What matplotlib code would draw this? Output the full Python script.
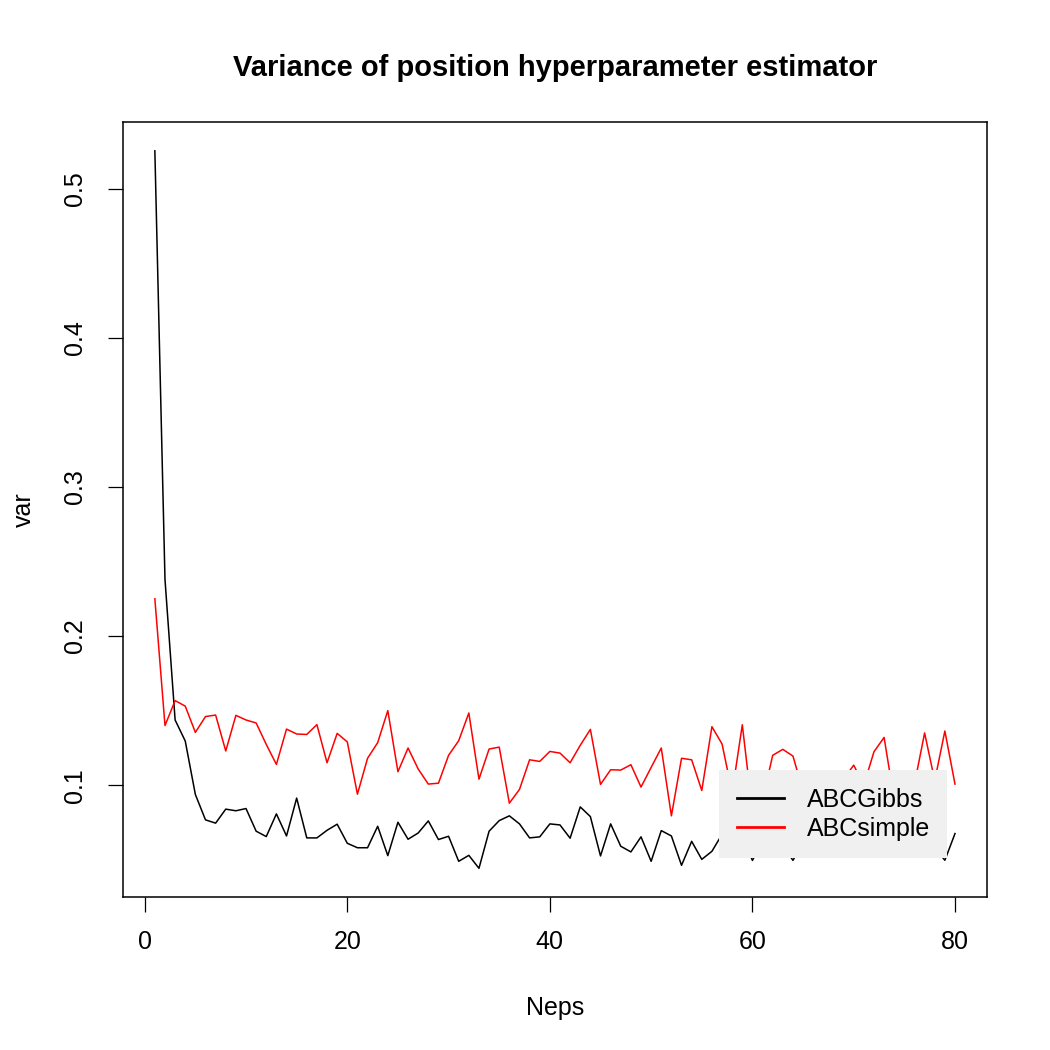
import matplotlib as ml
ml.use('Agg')
import numpy as np
import matplotlib.pyplot as plt
from matplotlib.lines import Line2D

plt.rcParams['font.family'] = ['Liberation Sans', 'DejaVu Sans']

# Neps = 1..80
neps = np.arange(1, 81)

# Variance of estimator, ABCGibbs (values under the legend are estimates)
abc_gibbs = [
    0.5255, 0.238, 0.1437, 0.1296, 0.0937, 0.0767, 0.0745, 0.0839, 0.0828, 0.0843,
    0.0691, 0.0655, 0.0807, 0.0659, 0.0913, 0.0646, 0.0646, 0.0697, 0.0738, 0.0610,
    0.0580, 0.0580, 0.0724, 0.0527, 0.0751, 0.0637, 0.0679, 0.0760, 0.0635, 0.0657,
    0.0489, 0.0529, 0.0442, 0.0691, 0.0762, 0.0794, 0.0740, 0.0646, 0.0653, 0.0740,
    0.0733, 0.0644, 0.0854, 0.0789, 0.0525, 0.0740, 0.0590, 0.0552, 0.0653, 0.0489,
    0.0695, 0.0659, 0.0462, 0.0623, 0.0502, 0.0556, 0.0670, 0.0600, 0.0650, 0.0495,
    0.0620, 0.0580, 0.0600, 0.0495, 0.0620, 0.0580, 0.0630, 0.0550, 0.0600, 0.0580,
    0.0630, 0.0550, 0.0600, 0.0570, 0.0620, 0.0560, 0.0600, 0.0580, 0.0496, 0.0675,
]

# Variance of estimator, ABCsimple
abc_simple = [
    0.2250, 0.1400, 0.1567, 0.1530, 0.1354, 0.1460, 0.1470, 0.1229, 0.1468, 0.1437,
    0.1417, 0.1273, 0.1139, 0.1376, 0.1343, 0.1340, 0.1406, 0.1150, 0.1347, 0.1290,
    0.0939, 0.1180, 0.1285, 0.1500, 0.1090, 0.1249, 0.1108, 0.1007, 0.1013, 0.1200,
    0.1298, 0.1484, 0.1040, 0.1242, 0.1255, 0.0879, 0.0971, 0.1170, 0.1159, 0.1226,
    0.1215, 0.1150, 0.1267, 0.1374, 0.1005, 0.1103, 0.1101, 0.1137, 0.0987, 0.1119,
    0.1249, 0.0794, 0.1180, 0.1170, 0.0964, 0.1392, 0.1276, 0.0950, 0.1405, 0.0820,
    0.0900, 0.1200, 0.1240, 0.1195, 0.0960, 0.1000, 0.1080, 0.0950, 0.1040, 0.1134,
    0.1000, 0.1224, 0.1320, 0.0900, 0.1000, 0.1007, 0.1350, 0.1030, 0.1363, 0.1007,
]

xticks = [0, 20, 40, 60, 80]
yticks = [0.1, 0.2, 0.3, 0.4, 0.5]

fig = plt.figure(figsize=(10.5, 10.5), dpi=100)
ax = fig.add_axes([0.117, 0.1457, 0.823, 0.738])

ax.plot(neps, abc_gibbs, color='black', lw=1.1)
ax.plot(neps, abc_simple, color='red', lw=1.1)

# R-style 4% padding
x0, x1 = min(neps), max(neps)
dx = (x1 - x0) * 0.04
ax.set_xlim(x0 - dx, x1 + dx)
allv = abc_gibbs + abc_simple
y0, y1 = min(allv), max(allv)
dy = (y1 - y0) * 0.04
ax.set_ylim(y0 - dy, y1 + dy)

ax.set_xticks(xticks)
ax.set_xticklabels([str(t) for t in xticks])
ax.set_yticks(yticks)
ax.set_yticklabels([str(t) for t in yticks], rotation=90, va='center')
ax.tick_params(axis='both', direction='out', length=11, width=0.9, labelsize=18, pad=13)
ax.tick_params(axis='y', pad=15)

for s in ax.spines.values():
    s.set_linewidth(1.1)

ax.set_xlabel('Neps', fontsize=18, labelpad=30)
ax.set_ylabel('var', fontsize=18, labelpad=19)
ax.set_title('Variance of position hyperparameter estimator', fontsize=21,
             fontweight='bold', pad=33)

handles = [Line2D([], [], color='black', lw=2), Line2D([], [], color='red', lw=2)]
leg = ax.legend(handles, ['ABCGibbs', 'ABCsimple'], loc='lower left',
                bbox_to_anchor=(0.690, 0.0503), borderaxespad=0, fontsize=18,
                fancybox=False, framealpha=1, handlelength=1.9, handletextpad=0.9,
                borderpad=0.7, labelspacing=0.2)
leg.get_frame().set_facecolor('#f0f0f0')
leg.get_frame().set_edgecolor('none')

fig.savefig('out.png', dpi=100)
